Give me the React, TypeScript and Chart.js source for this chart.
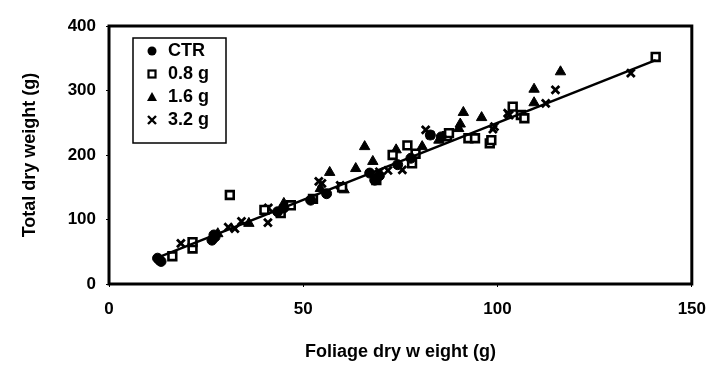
import React, { useEffect, useRef } from "react";
import { Chart, registerables } from "chart.js";

Chart.register(...registerables);

const ctrX = [12.5, 13.4, 13.0, 26.5, 27.3, 27.0, 43.4, 45.0, 51.9, 56.0, 67.1, 68.4, 69.6, 74.3, 77.7, 82.7, 85.5];
const ctrY = [40, 35, 37, 68, 73, 76, 112, 118, 130, 140, 172, 161, 168, 185, 195, 231, 228];

const g08X = [16.3, 21.5, 21.5, 31.1, 40.0, 44.2, 46.8, 52.5, 60.0, 68.8, 73.0, 76.8, 78.0, 78.9, 87.0, 87.5, 92.5, 94.2, 98.0, 98.4, 103.9, 106.0, 106.9, 140.7];
const g08Y = [43, 55, 65, 138, 115, 110, 122, 132, 150, 161, 200, 215, 187, 202, 229, 234, 226, 226, 218, 223, 275, 262, 257, 352];

const g16X = [28.0, 36.0, 45.0, 54.4, 56.8, 60.5, 63.5, 65.8, 67.9, 73.9, 80.6, 84.9, 90.0, 90.4, 91.2, 95.9, 109.4, 109.4, 116.2];
const g16Y = [78, 94, 125, 148, 173, 146, 179, 213, 190, 208, 213, 223, 241, 248, 266, 258, 302, 281, 329];

const g32X = [18.5, 30.7, 32.4, 34.1, 40.9, 41.0, 54.8, 54.0, 59.5, 69.6, 71.8, 75.5, 81.5, 82.7, 98.8, 99.2, 102.6, 103.0, 112.4, 114.9, 134.3];
const g32Y = [63, 88, 86, 97, 95, 118, 156, 159, 153, 174, 176, 177, 239, 231, 240, 244, 265, 262, 280, 301, 327];

const fitX = [12.5, 140.7];
const fitY = [41, 347];

const seriesLabels = ["CTR", "0.8 g", "1.6 g", "3.2 g"];
const xTicks = [0, 50, 100, 150];
const yTicks = [0, 100, 200, 300, 400];

const FONT = "'Liberation Sans', Arial, sans-serif";

function pts(xs: number[], ys: number[]) {
  return xs.map((x, i) => ({ x, y: ys[i] }));
}

const boxPlugin = {
  id: "boxPlugin",
  afterDraw(chart: any) {
    const { ctx, chartArea } = chart;
    ctx.save();
    ctx.strokeStyle = "#000";
    ctx.lineWidth = 3;
    ctx.strokeRect(chartArea.left, chartArea.top, chartArea.right - chartArea.left, chartArea.bottom - chartArea.top);

    // legend
    const bx = chartArea.left + 24;
    const by = chartArea.top + 12;
    const bw = 93;
    const bh = 105;
    ctx.fillStyle = "#fff";
    ctx.fillRect(bx, by, bw, bh);
    ctx.lineWidth = 1.5;
    ctx.strokeRect(bx, by, bw, bh);
    ctx.font = `bold 18px ${FONT}`;
    ctx.textBaseline = "middle";
    ctx.textAlign = "left";
    seriesLabels.forEach((lab, i) => {
      const cy = by + 13 + i * 23;
      const mx = bx + 19;
      ctx.fillStyle = "#000";
      ctx.strokeStyle = "#000";
      ctx.beginPath();
      if (i === 0) {
        ctx.arc(mx, cy, 4.5, 0, Math.PI * 2);
        ctx.fill();
      } else if (i === 1) {
        ctx.lineWidth = 2.2;
        ctx.strokeRect(mx - 3.5, cy - 3.5, 7, 7);
      } else if (i === 2) {
        ctx.moveTo(mx, cy - 5);
        ctx.lineTo(mx + 5, cy + 4);
        ctx.lineTo(mx - 5, cy + 4);
        ctx.closePath();
        ctx.fill();
      } else {
        ctx.lineWidth = 2.4;
        ctx.moveTo(mx - 4, cy - 4);
        ctx.lineTo(mx + 4, cy + 4);
        ctx.moveTo(mx + 4, cy - 4);
        ctx.lineTo(mx - 4, cy + 4);
        ctx.stroke();
      }
      ctx.fillStyle = "#000";
      ctx.fillText(lab, bx + 35, cy);
    });
    ctx.restore();
  },
};

export default function App() {
  const ref = useRef<HTMLCanvasElement>(null);
  useEffect(() => {
    document.body.style.margin = "0";
    const canvas = ref.current!;
    const chart = new Chart(canvas, {
      type: "scatter",
      data: {
        datasets: [
          {
            type: "line",
            label: "fit",
            data: pts(fitX, fitY),
            borderColor: "#000",
            borderWidth: 2.5,
            pointRadius: 0,
            fill: false,
          } as any,
          {
            label: seriesLabels[0],
            data: pts(ctrX, ctrY),
            pointStyle: "circle",
            pointRadius: 5,
            backgroundColor: "#000",
            borderColor: "#000",
            borderWidth: 1,
          },
          {
            label: seriesLabels[1],
            data: pts(g08X, g08Y),
            pointStyle: "rect",
            pointRadius: 5.5,
            backgroundColor: "#fff",
            borderColor: "#000",
            borderWidth: 2.6,
          },
          {
            label: seriesLabels[2],
            data: pts(g16X, g16Y),
            pointStyle: "triangle",
            pointRadius: 6,
            backgroundColor: "#000",
            borderColor: "#000",
            borderWidth: 1,
          },
          {
            label: seriesLabels[3],
            data: pts(g32X, g32Y),
            pointStyle: "crossRot",
            pointRadius: 5.5,
            backgroundColor: "#000",
            borderColor: "#000",
            borderWidth: 2.8,
          },
        ],
      },
      options: {
        responsive: false,
        animation: false,
        layout: { padding: { top: 26, right: 18, left: 0, bottom: 0 } },
        plugins: { legend: { display: false }, tooltip: { enabled: false } },
        scales: {
          x: {
            type: "linear",
            min: 0,
            max: 150,
            afterFit: (s: any) => { s.height = 86; },
            afterBuildTicks: (s: any) => { s.ticks = xTicks.map((v) => ({ value: v })); },
            grid: { drawOnChartArea: false, drawTicks: true, tickLength: 3, color: "#000" },
            border: { display: false },
            ticks: { color: "#000", padding: 12, font: { family: FONT, size: 17, weight: "bold" } },
            title: {
              display: true,
              text: "Foliage dry w eight (g)",
              color: "#000",
              padding: { top: 0, bottom: 7 },
              font: { family: FONT, size: 18, weight: "bold" },
            },
          },
          y: {
            type: "linear",
            min: 0,
            max: 400,
            afterFit: (s: any) => { s.width = 109; },
            afterBuildTicks: (s: any) => { s.ticks = yTicks.map((v) => ({ value: v })); },
            grid: { drawOnChartArea: false, drawTicks: true, tickLength: 3, color: "#000" },
            border: { display: false },
            ticks: { color: "#000", padding: 10, font: { family: FONT, size: 17, weight: "bold" } },
            title: {
              display: true,
              text: "Total dry weight (g)",
              color: "#000",
              padding: { top: 19, bottom: 0 },
              font: { family: FONT, size: 18, weight: "bold" },
            },
          },
        },
      },
      plugins: [boxPlugin],
    });
    return () => chart.destroy();
  }, []);
  return <canvas ref={ref} width={718} height={370} style={{ display: "block" }} />;
}
